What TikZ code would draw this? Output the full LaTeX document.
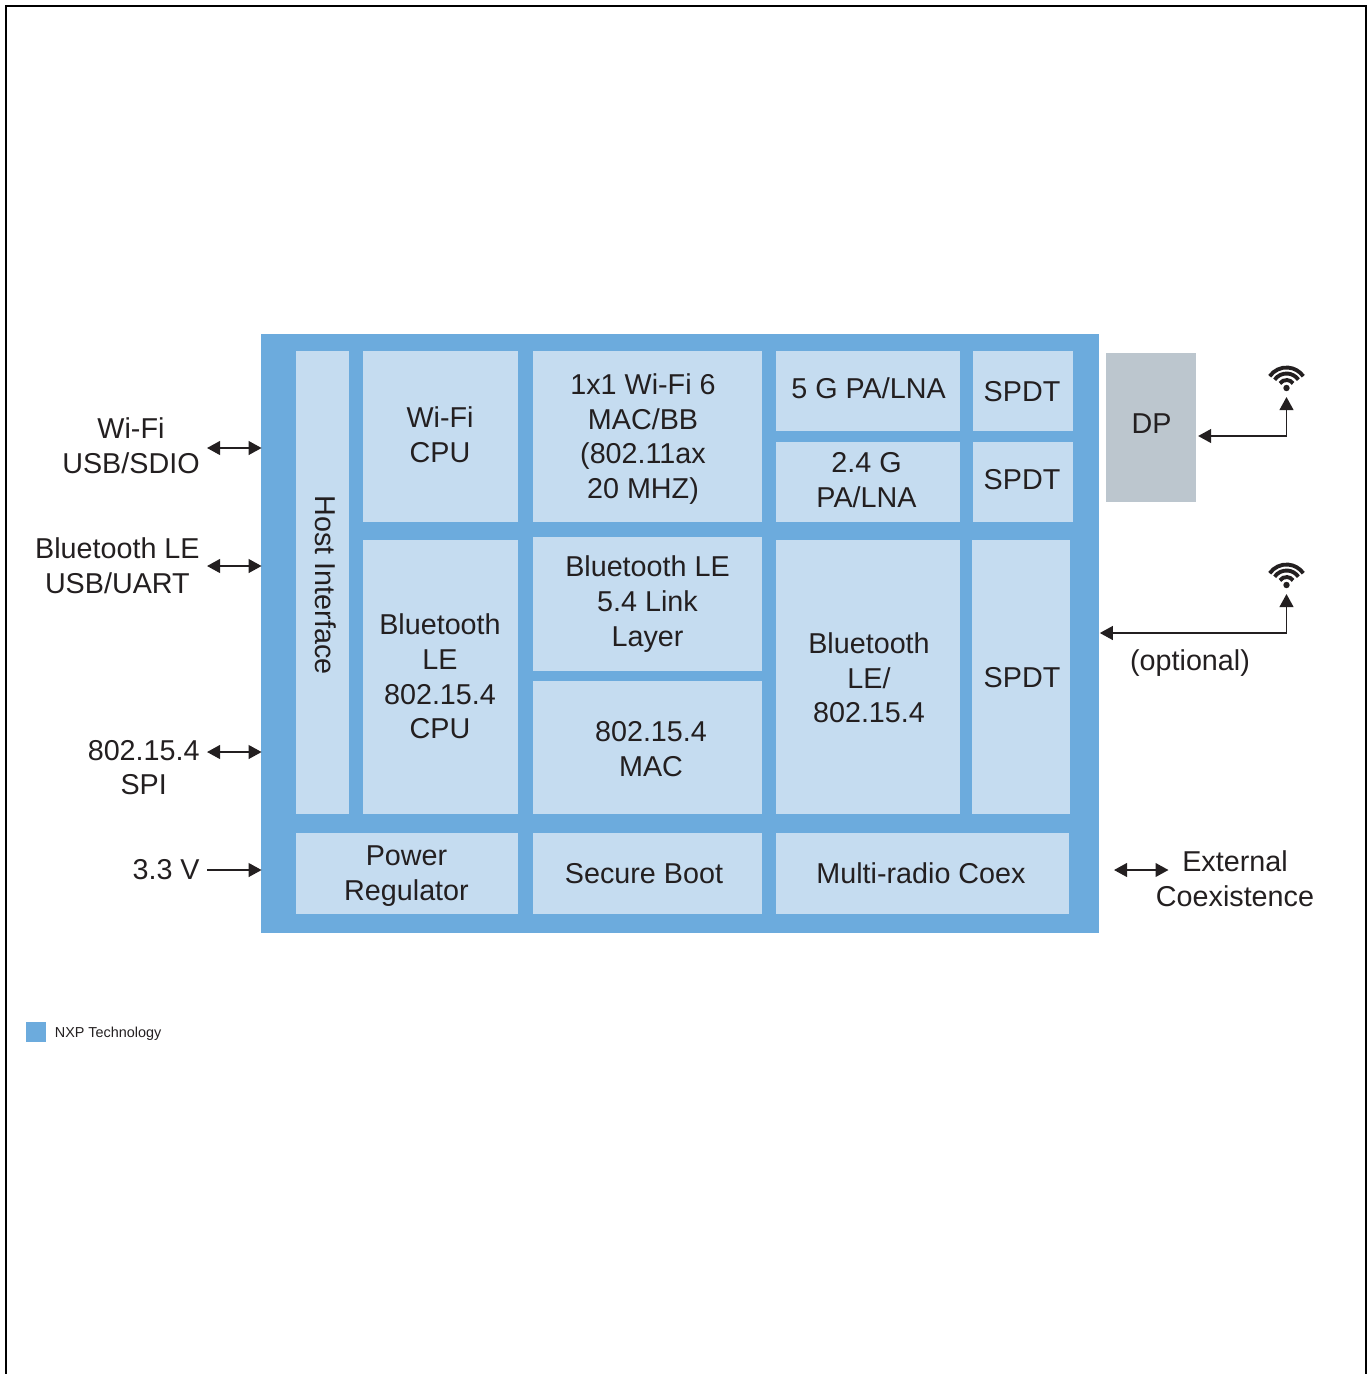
\documentclass[tikz,border=0pt]{standalone}
\usepackage{fontspec}
\setmainfont{Liberation Sans}
\usetikzlibrary{arrows.meta}
\definecolor{socblue}{RGB}{108,171,221}
\definecolor{cellblue}{RGB}{197,220,240}
\definecolor{dpgray}{RGB}{188,198,206}
\definecolor{inkdark}{RGB}{35,31,32}
\tikzset{
  lbl/.style={font=\fontsize{16.35}{19.7}\selectfont,text=inkdark,align=center,inner sep=0},
  portlbl/.style={lbl,inner sep=4pt},
  cell/.style={fill=cellblue},
  conn/.style={draw=inkdark,line width=1.1pt,>={Triangle[length=7.4pt,width=7.8pt]}},
}
% one wireless sign, #1 is its dot
\newcommand{\wifisign}[1]{%
\foreach \rad in {8,14.5,20.5}{\draw[inkdark,line width=2.2pt] ([shift={(215:\rad)}]#1) arc[start angle=215,end angle=325,radius=\rad];}%
\fill[inkdark] (#1) circle[radius=3.2];%
}
\begin{document}
\begin{tikzpicture}[x=0.02cm,y=-0.02cm]%
\useasboundingbox (0,0) rectangle (1367,1374);%
\draw[black,line width=1.6pt] (6,1374) -- (6,6) -- (1366,6) -- (1366,1374);%
\node (soc) [fill=socblue,inner sep=0,minimum width=16.76cm,minimum height=11.98cm] at (680,633.5) {};%
\node (dp) [fill=dpgray,inner sep=0,minimum width=1.8cm,minimum height=2.98cm] at (1151,427.5) {};%
\node (dplbl) [lbl] at (1151.5,424) {DP};%
\fill[cell] (296,351) rectangle (349,814);%
\node (hostlbl) [lbl,rotate=-90] at (326,585) {Host Interface};%
\fill[cell] (363,351) rectangle (518,522);%
\node (wificpu) [lbl] at (440,434.5) {Wi-Fi\\CPU};%
\fill[cell] (533,351) rectangle (762,522);%
\node (wifimac) [lbl] at (643,439) {1x1 Wi-Fi 6\\MAC/BB\\(802.11ax\\20 MHZ)};%
\fill[cell] (776,351) rectangle (960,431);%
\node (pafive) [lbl] at (868.5,388) {5 G PA/LNA};%
\fill[cell] (973,351) rectangle (1073,431);%
\node (spdtone) [lbl] at (1022,392) {SPDT};%
\fill[cell] (776,442) rectangle (960,522);%
\node (patwo) [lbl] at (866.5,480) {2.4 G\\PA/LNA};%
\fill[cell] (973,442) rectangle (1073,522);%
\node (spdttwo) [lbl] at (1022,480) {SPDT};%
\fill[cell] (363,540) rectangle (518,814);%
\node (btcpu) [lbl] at (440,676.5) {Bluetooth\\LE\\802.15.4\\CPU};%
\fill[cell] (533,537) rectangle (762,671);%
\node (btlink) [lbl] at (647.5,604) {Bluetooth LE\\5.4 Link\\Layer};%
\fill[cell] (533,681) rectangle (762,814);%
\node (zbmac) [lbl] at (651,749) {802.15.4\\MAC};%
\fill[cell] (776,540) rectangle (960,814);%
\node (btradio) [lbl] at (869,678) {Bluetooth\\LE/\\802.15.4};%
\fill[cell] (972,540) rectangle (1070,814);%
\node (spdtthree) [lbl] at (1022,678) {SPDT};%
\fill[cell] (296,833) rectangle (518,914);%
\node (power) [lbl] at (406.5,876) {Power\\Regulator};%
\fill[cell] (533,833) rectangle (762,914);%
\node (secboot) [lbl] at (644,874) {Secure Boot};%
\fill[cell] (776,833) rectangle (1069,914);%
\node (coex) [lbl] at (921,873.5) {Multi-radio Coex};%
\node (wifiport) [portlbl,anchor=east] at (207,445.5) {Wi-Fi\\USB/SDIO};%
\node (btport) [portlbl,anchor=east] at (207,566) {Bluetooth LE\\USB/UART};%
\node (zbport) [portlbl,anchor=east] at (207,767.5) {802.15.4\\SPI};%
\node (vdd) [portlbl,anchor=east] at (207,870) {3.3 V};%
\node (extcoex) [lbl] at (1235,879) {External\\Coexistence};%
\node (optlbl) [lbl] at (1190,663) {(optional)};%
\coordinate (extleft) at (1114,870);%
\coordinate (extright) at (1168.5,870);%
\coordinate (antone) at (1286.5,397);%
\coordinate (anttwo) at (1286.5,594);%
\draw[conn,<->,shorten >=-0.5pt] (wifiport.east |- 0,448) -- (soc.west |- 0,448);%
\draw[conn,<->,shorten >=-0.5pt] (btport.east |- 0,566) -- (soc.west |- 0,566);%
\draw[conn,<->,shorten >=-0.5pt] (zbport.east |- 0,752) -- (soc.west |- 0,752);%
\draw[conn,->,shorten >=-0.5pt] (vdd.east |- 0,870) -- (soc.west |- 0,870);%
\draw[conn,<->] (extleft) -- (extright);%
\draw[conn,<->,shorten >=1pt] (antone) |- (dp.east |- 0,436);%
\draw[conn,<->,shorten >=0.3pt] (anttwo) |- (soc.east |- 0,633);%
\wifisign{1286.5,388}%
\wifisign{1286.5,585}%
\fill[socblue] (26,1022) rectangle (46,1042);%
\node (legend) [lbl,font=\fontsize{8.2}{10}\selectfont,anchor=west] at (54.5,1033.5) {NXP Technology};%
\end{tikzpicture}
\end{document}
